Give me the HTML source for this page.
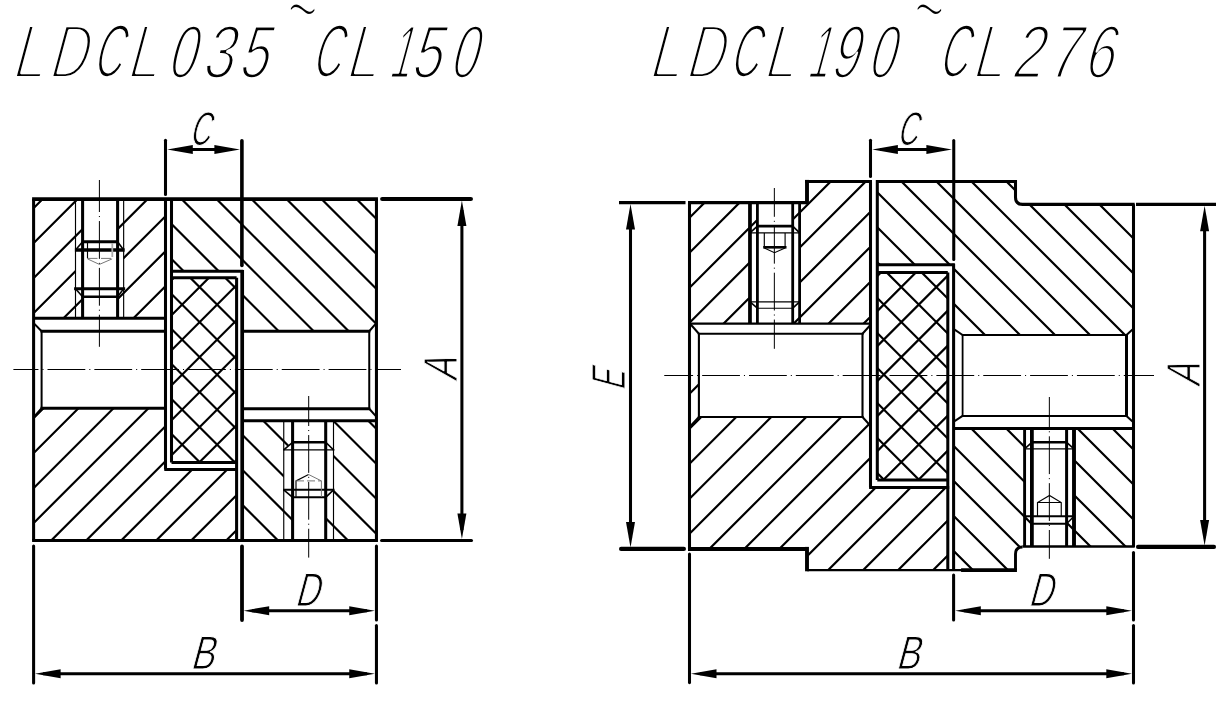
<!DOCTYPE html>
<html><head><meta charset="utf-8"><title>LDCL035~CL150 / LDCL190~CL276</title>
<style>
html,body{margin:0;padding:0;background:#fff}
svg{display:block}
path{fill:none;stroke:#000;stroke-linecap:butt;stroke-linejoin:miter}
.T{stroke-width:3.05}
.M{stroke-width:2.6}
.m{stroke-width:2}
.h{stroke-width:2.2}
.t{stroke-width:1.15}
.g{stroke-width:1;stroke:#777}
.c{stroke-width:1}
.r{stroke-linecap:round}
.a{fill:#000;stroke:none}
text{font-family:"Liberation Sans",sans-serif;fill:#000;stroke:#fff;paint-order:fill stroke;stroke-linejoin:round}
</style></head><body>
<svg width="1225" height="709" viewBox="0 0 1225 709" style="will-change:transform">
<rect width="1225" height="709" fill="#fff"/>
<clipPath id="c1"><path clip-rule="evenodd" d="M33.6 199L165.5 199L165.5 318.2L33.6 318.2ZM41.6 408.2L165.5 408.2L165.5 469.5L236.6 469.5L236.6 540.4L33.6 540.4L33.6 416.5ZM82.6 199L117.6 199L117.6 241.7L123.65 250L123.65 288.7L117.6 296.8L117.6 318.2L82.6 318.2L82.6 296.8L75.5 288.7L75.5 250L82.6 241.7Z"/></clipPath>
<path class="h" clip-path="url(#c1)" d="M44.7 197L-300.7 542.4M79.7 197L-265.7 542.4M114.7 197L-230.7 542.4M149.7 197L-195.7 542.4M184.7 197L-160.7 542.4M219.7 197L-125.7 542.4M254.7 197L-90.7 542.4M289.7 197L-55.7 542.4M324.7 197L-20.7 542.4M359.7 197L14.3 542.4M394.7 197L49.3 542.4M429.7 197L84.3 542.4M464.7 197L119.3 542.4M499.7 197L154.3 542.4M534.7 197L189.3 542.4M569.7 197L224.3 542.4"/>
<clipPath id="c2"><path clip-rule="evenodd" d="M171.5 199L376.45 199L376.45 323.75L369.25 331.25L242 331.25L242 271.2L171.5 271.2ZM242 420.7L376.45 420.7L376.45 540.4L242 540.4ZM292.6 420.7L325.7 420.7L325.7 442.3L333.5 449.9L333.5 489.8L325.7 497.3L325.7 540.4L292.6 540.4L292.6 497.3L283.75 489.8L283.75 449.9L292.6 442.3Z"/></clipPath>
<path class="h" clip-path="url(#c2)" d="M-170.5 197L174.9 542.4M-135.5 197L209.9 542.4M-100.5 197L244.9 542.4M-65.5 197L279.9 542.4M-30.5 197L314.9 542.4M4.5 197L349.9 542.4M39.5 197L384.9 542.4M74.5 197L419.9 542.4M109.5 197L454.9 542.4M144.5 197L489.9 542.4M179.5 197L524.9 542.4M214.5 197L559.9 542.4M249.5 197L594.9 542.4M284.5 197L629.9 542.4M319.5 197L664.9 542.4M354.5 197L699.9 542.4"/>
<clipPath id="c3"><path clip-rule="evenodd" d="M171.5 277.7L236.6 277.7L236.6 462.5L171.5 462.5Z"/></clipPath>
<path class="h" clip-path="url(#c3)" d="M13.2 275.7L202 464.5M48.2 275.7L237 464.5M83.2 275.7L272 464.5M118.2 275.7L307 464.5M153.2 275.7L342 464.5M188.2 275.7L377 464.5M223.2 275.7L412 464.5M176 275.7L-12.8 464.5M211 275.7L22.2 464.5M246 275.7L57.2 464.5M281 275.7L92.2 464.5M316 275.7L127.2 464.5M351 275.7L162.2 464.5M386 275.7L197.2 464.5M421 275.7L232.2 464.5"/>
<path class="c" stroke-dasharray="37.8 4 1.05 4" stroke-dashoffset="12.75" d="M13.4 369.5H401"/>
<path class="c" stroke-dasharray="37.8 4 1.05 4" stroke-dashoffset="5.8" d="M99.4 180V346.8"/>
<path class="c" stroke-dasharray="37.8 4 1.05 4" stroke-dashoffset="7.8" d="M308.7 396V557.6"/>
<path class="t" d="M75.5 199L75.5 318.2"/>
<path class="T" d="M82.6 199L82.6 318.2"/>
<path class="T" d="M117.6 199L117.6 318.2"/>
<path class="t" d="M123.65 199L123.65 318.2"/>
<path style="stroke-width:1.6" d="M82.6 241.7L75.5 250"/>
<path style="stroke-width:1.6" d="M117.6 241.7L123.65 250"/>
<path style="stroke-width:1.6" d="M75.5 288.7L82.6 296.8"/>
<path style="stroke-width:1.6" d="M123.65 288.7L117.6 296.8"/>
<path class="T" d="M82.6 241.7L117.6 241.7"/>
<path style="stroke-width:3.5" d="M74.9 250L124.65 250"/>
<path class="T" d="M74.1 288.7L125.15 288.7"/>
<path style="stroke-width:2.4" d="M82.6 296.8L117.6 296.8"/>
<path class="t" d="M87.5 243V258.4"/>
<path style="stroke:#aaa;stroke-width:1.8" d="M112.3 243V257"/>
<path class="g" stroke-dasharray="10 3.5" d="M87.5 258.4H112.1"/>
<path class="g" d="M87.5 258.9L99.4 264.4L112.1 258.9"/>
<path class="t" d="M283.75 420.7L283.75 540.4"/>
<path class="T" d="M292.6 420.7L292.6 540.4"/>
<path class="T" d="M325.7 420.7L325.7 540.4"/>
<path class="t" d="M333.5 420.7L333.5 540.4"/>
<path style="stroke-width:1.6" d="M292.6 442.3L283.75 449.9"/>
<path style="stroke-width:1.6" d="M325.7 442.3L333.5 449.9"/>
<path style="stroke-width:1.6" d="M283.75 489.8L292.6 497.3"/>
<path style="stroke-width:1.6" d="M333.5 489.8L325.7 497.3"/>
<path class="M" d="M292.6 442.3L325.7 442.3"/>
<path class="t" d="M283.15 449.9L334.5 449.9"/>
<path class="m" d="M283.15 489.8L334.5 489.8"/>
<path class="m" d="M292.6 497.3L325.7 497.3"/>
<path class="t" d="M296 496.8V480.9L308.6 474.5"/>
<path class="g" d="M308.6 474.5L321.4 480.9V496.8"/>
<path class="g" stroke-dasharray="8 3" d="M296 480.9H321.4"/>
<path style="stroke-width:3.8" d="M32.1 199.1H377.95"/>
<path class="T" d="M32.1 540.4L377.95 540.4"/>
<path class="T" d="M33.6 199L33.6 540.4"/>
<path class="T" d="M376.45 199L376.45 540.4"/>
<path class="T" d="M165.5 199L165.5 469.5"/>
<path class="T" d="M164.3 469.5L238 469.5"/>
<path class="T" d="M236.6 277.7L236.6 540.4"/>
<path class="T" d="M171.5 199L171.5 462.5"/>
<path class="T" d="M171.5 462.5L236.6 462.5"/>
<path class="T" d="M171.5 277.7L236.6 277.7"/>
<path class="T" d="M171.5 271.2L243.2 271.2"/>
<path style="stroke-width:3.7" d="M242.2 270V540.4"/>
<path class="T" d="M33.6 318.2L165.5 318.2"/>
<path class="T" d="M40.6 331.2L165.5 331.2"/>
<path class="T" d="M40.6 408.2L165.5 408.2"/>
<path class="m" d="M41.6 331.2L41.6 408.2"/>
<path class="m" d="M34.2 323.6L41.6 331.2"/>
<path class="m" d="M34.2 416.6L41.6 408.2"/>
<path class="T" d="M242 331.25L370.25 331.25"/>
<path class="T" d="M242 408.75L370.25 408.75"/>
<path class="T" d="M242 420.7L376.45 420.7"/>
<path class="m" d="M369.25 331.25L369.25 408.75"/>
<path class="m" d="M369.25 331.25L375.85 323.65"/>
<path class="m" d="M369.25 408.75L375.85 416.15"/>
<path class="T r" d="M165.5 140.2V194.5"/>
<path class="r" style="stroke-width:3.6" d="M241.9 140.8V265.5"/>
<path class="T" d="M175 149.5L232 149.5"/>
<path class="a" d="M167.2 149.5L192.8 154L192.8 145Z"/>
<path class="a" d="M240 149.5L214.4 145L214.4 154Z"/>
<path class="r" style="stroke-width:4.2" d="M382.2 199H470.9"/>
<path class="T r" d="M381.6 540.4H471.5"/>
<path class="T" d="M461.9 210L461.9 530"/>
<path class="a" d="M461.9 200.4L457.4 226L466.4 226Z"/>
<path class="a" d="M461.9 539L466.4 513.4L457.4 513.4Z"/>
<path class="r" style="stroke-width:3.8" d="M242 546.4V620"/>
<path class="T r" d="M376.45 546V620"/>
<path class="T" d="M252 610.7L367 610.7"/>
<path class="a" d="M243.6 610.7L269.2 615.2L269.2 606.2Z"/>
<path class="a" d="M374.85 610.7L349.25 606.2L349.25 615.2Z"/>
<path class="T r" d="M33.6 546V683"/>
<path class="T r" d="M376.45 625.4V683"/>
<path class="T" d="M43 673.7L367 673.7"/>
<path class="a" d="M35 673.7L60.6 678.2L60.6 669.2Z"/>
<path class="a" d="M374.85 673.7L349.25 669.2L349.25 678.2Z"/>
<clipPath id="c4"><path clip-rule="evenodd" d="M689.5 202.6L807.2 202.6L807.2 181.5L870.5 181.5L870.5 323.6L689.5 323.6ZM757.4 202.6L792.7 202.6L792.7 226.1L799.6 232.9L799.6 301.9L792.7 308.2L792.7 323.6L757.4 323.6L757.4 308.2L749.97 301.9L749.97 232.9L757.4 226.1Z"/></clipPath>
<path class="h" clip-path="url(#c4)" d="M692.7 179.5L546.6 325.6M727.7 179.5L581.6 325.6M762.7 179.5L616.6 325.6M797.7 179.5L651.6 325.6M832.7 179.5L686.6 325.6M867.7 179.5L721.6 325.6M902.7 179.5L756.6 325.6M937.7 179.5L791.6 325.6M972.7 179.5L826.6 325.6M1007.7 179.5L861.6 325.6"/>
<clipPath id="c5"><path clip-rule="evenodd" d="M698.9 417L862.5 417L870.5 425L870.5 487.5L947.8 487.5L947.8 570.1L807.2 570.1L807.2 548.9L689.5 548.9L689.5 426ZM689.5 383L698.9 383L698.9 394L689.5 394Z"/></clipPath>
<path class="h" clip-path="url(#c5)" d="M702.25 381L511.15 572.1M737.25 381L546.15 572.1M772.25 381L581.15 572.1M807.25 381L616.15 572.1M842.25 381L651.15 572.1M877.25 381L686.15 572.1M912.25 381L721.15 572.1M947.25 381L756.15 572.1M982.25 381L791.15 572.1M1017.25 381L826.15 572.1M1052.25 381L861.15 572.1M1087.25 381L896.15 572.1M1122.25 381L931.15 572.1"/>
<clipPath id="c6"><path clip-rule="evenodd" d="M877.3 181.5L1015.5 181.5L1015.5 197.35L1017.6 202.25L1022.5 204.35L1133.5 204.35L1133.5 329.4L1126.5 335L962.6 335L953.6 329.6L953.6 264.7L877.3 264.7Z"/></clipPath>
<path class="h" clip-path="url(#c6)" d="M724.5 179.5L882 337M759.5 179.5L917 337M794.5 179.5L952 337M829.5 179.5L987 337M864.5 179.5L1022 337M899.5 179.5L1057 337M934.5 179.5L1092 337M969.5 179.5L1127 337M1004.5 179.5L1162 337M1039.5 179.5L1197 337M1074.5 179.5L1232 337M1109.5 179.5L1267 337"/>
<clipPath id="c7"><path clip-rule="evenodd" d="M953.6 428.5L1031.9 428.5L1031.9 442.3L1024.6 448.9L1024.6 516.25L1031.9 523.75L1031.9 547L1022.5 547L1017.6 549.1L1015.5 554L1015.5 570.1L953.6 570.1Z"/></clipPath>
<path class="h" clip-path="url(#c7)" d="M829.3 426.5L974.9 572.1M864.3 426.5L1009.9 572.1M899.3 426.5L1044.9 572.1M934.3 426.5L1079.9 572.1M969.3 426.5L1114.9 572.1M1004.3 426.5L1149.9 572.1"/>
<clipPath id="c8"><path clip-rule="evenodd" d="M1066.6 428.5L1133.5 428.5L1133.5 547L1066.6 547L1066.6 523.75L1074 516.25L1074 448.9L1066.6 442.3Z"/></clipPath>
<path class="h" clip-path="url(#c8)" d="M970.5 426.5L1093 549M1005.5 426.5L1128 549M1040.5 426.5L1163 549M1075.5 426.5L1198 549M1110.5 426.5L1233 549"/>
<clipPath id="c9"><path clip-rule="evenodd" d="M877.3 272.4L947.8 272.4L947.8 480L877.3 480Z"/></clipPath>
<path class="h" clip-path="url(#c9)" d="M674.6 270.4L886.2 482M709.6 270.4L921.2 482M744.6 270.4L956.2 482M779.6 270.4L991.2 482M814.6 270.4L1026.2 482M849.6 270.4L1061.2 482M884.6 270.4L1096.2 482M919.6 270.4L1131.2 482M882.95 270.4L671.35 482M917.95 270.4L706.35 482M952.95 270.4L741.35 482M987.95 270.4L776.35 482M1022.95 270.4L811.35 482M1057.95 270.4L846.35 482M1092.95 270.4L881.35 482M1127.95 270.4L916.35 482"/>
<path class="c" stroke-dasharray="37.8 4 1.05 4" stroke-dashoffset="8.95" d="M664.25 375.5H1154"/>
<path class="c" stroke-dasharray="37.8 4 1.05 4" stroke-dashoffset="9" d="M774.35 188V348.8"/>
<path class="c" stroke-dasharray="37.8 4 1.05 4" stroke-dashoffset="7.55" d="M1049.35 397V558.8"/>
<path style="stroke-width:3.75" d="M749.97 202.6V323.6"/>
<path style="stroke-width:2.8" d="M757.4 202.6V323.6"/>
<path style="stroke-width:2.8" d="M792.7 202.6V323.6"/>
<path style="stroke-width:2.8" d="M799.6 202.6V323.6"/>
<path style="stroke-width:1.6" d="M757.4 226.1L749.97 232.9"/>
<path style="stroke-width:1.6" d="M792.7 226.1L799.6 232.9"/>
<path style="stroke-width:1.6" d="M749.97 301.9L757.4 308.2"/>
<path style="stroke-width:1.6" d="M799.6 301.9L792.7 308.2"/>
<path class="M" d="M757.4 226.1L792.7 226.1"/>
<path class="t" d="M749.97 232.9L799.6 232.9"/>
<path class="t" d="M749.97 301.9L799.6 301.9"/>
<path class="t" d="M757.4 308.2L792.7 308.2"/>
<path class="t" d="M764.3 233V247.3M785.1 233V247.3"/>
<path class="M" d="M763.2 247.3H786.5"/>
<path class="t" d="M764.3 248L774.5 252.7L785.1 248"/>
<path style="stroke-width:2.9" d="M1024.6 428.5V547"/>
<path style="stroke-width:3.75" d="M1031.9 428.5V547"/>
<path style="stroke-width:3" d="M1066.6 428.5V547"/>
<path style="stroke-width:3.9" d="M1074 428.5V547"/>
<path style="stroke-width:1.6" d="M1031.9 442.3L1024.6 448.9"/>
<path style="stroke-width:1.6" d="M1066.6 442.3L1074 448.9"/>
<path style="stroke-width:1.6" d="M1024.6 516.25L1031.9 523.75"/>
<path style="stroke-width:1.6" d="M1074 516.25L1066.6 523.75"/>
<path class="M" d="M1031.9 442.3L1066.6 442.3"/>
<path class="t" d="M1024.6 448.9L1074 448.9"/>
<path class="m" d="M1024.6 516.25L1074 516.25"/>
<path class="m" d="M1031.9 523.75L1066.6 523.75"/>
<path class="t" d="M1037.5 516V502.5L1049.5 495.5L1061.25 502.5V516M1037.5 502.5H1061.25"/>
<path class="T" d="M688 202.6H807.2"/>
<path style="stroke-width:3.9" d="M807 204.1V179.9"/>
<path style="stroke-width:3.2" d="M805.1 181.5H872"/>
<path style="stroke-width:4" d="M688 548.9H807.2"/>
<path style="stroke-width:3.9" d="M807 546.9V571.3"/>
<path style="stroke-width:2.4" d="M807.2 570.1H962"/>
<path class="T" d="M689.5 202.6L689.5 548.9"/>
<path class="T" d="M870.5 181.5L870.5 487.5"/>
<path class="T" d="M869.1 487.5L949.2 487.5"/>
<path class="T" d="M947.8 272.4L947.8 571.1"/>
<path class="T" d="M877.3 180.1L877.3 480"/>
<path class="T" d="M877.3 480L947.8 480"/>
<path class="T" d="M877.3 272.4L947.8 272.4"/>
<path class="T" d="M877.3 264.7L954.8 264.7"/>
<path class="T" d="M953.6 263.7L953.6 571.1"/>
<path class="T" d="M877.3 181.5H1015.5V197.35Q1015.5 204.35 1022.5 204.35H1134.7"/>
<path style="stroke-width:3.7" d="M961.1 570.1H1016.95"/>
<path style="stroke-width:2.9" d="M1015.5 570.1V554Q1015.5 547 1022.5 547"/>
<path style="stroke-width:2.5" d="M1022.5 546.6H1134.7"/>
<path class="T" d="M1133.5 204.35L1133.5 547"/>
<path style="stroke-width:2.2" d="M689.5 323.6L870.5 323.6"/>
<path style="stroke-width:2.2" d="M697.9 333.75L863.5 333.75"/>
<path style="stroke-width:2.2" d="M697.9 417L863.5 417"/>
<path style="stroke-width:2.1" d="M698.9 333.75L698.9 417"/>
<path style="stroke-width:2.1" d="M862.5 333.75L862.5 417"/>
<path style="stroke-width:2" d="M690.3 324L698.9 333.75"/>
<path style="stroke-width:2" d="M862.5 333.75L869.7 325.75"/>
<path style="stroke-width:2" d="M690.3 426.2L698.9 417"/>
<path style="stroke-width:2" d="M862.5 417L869.7 425"/>
<path style="stroke-width:2" d="M961.8 335L1127.5 335"/>
<path style="stroke-width:2" d="M961.8 415.9L1127.5 415.9"/>
<path style="stroke-width:2.8" d="M953.6 428.5L1133.5 428.5"/>
<path style="stroke-width:1.8" d="M962.6 335L962.6 415.9"/>
<path style="stroke-width:3" d="M1126.5 335L1126.5 415.9"/>
<path style="stroke-width:2" d="M954.6 329.6L962.6 335"/>
<path style="stroke-width:2" d="M1126.5 335L1132.5 329.4"/>
<path style="stroke-width:2" d="M954.6 421.1L962.6 415.9"/>
<path style="stroke-width:2" d="M1126.5 415.9L1132.5 421.5"/>
<path class="T r" d="M870.5 140.2V176.5"/>
<path class="T r" d="M953.75 140.5V259.5"/>
<path class="T" d="M880 149.5L944 149.5"/>
<path class="a" d="M872.3 149.5L897.9 154L897.9 145Z"/>
<path class="a" d="M952 149.5L926.4 145L926.4 154Z"/>
<path class="T" d="M619 202.6H685.5"/>
<path class="r" style="stroke-width:4.2" d="M621.1 548.9H683.9"/>
<path class="T" d="M630.5 214L630.5 538"/>
<path class="a" d="M630.5 204L626 229.6L635 229.6Z"/>
<path class="a" d="M630.5 547.5L635 521.9L626 521.9Z"/>
<path class="T" d="M1136 204.35H1216"/>
<path class="r" style="stroke-width:4.1" d="M1138 546.9H1214"/>
<path class="T" d="M1204.6 216L1204.6 536"/>
<path class="a" d="M1204.6 205.75L1200.1 231.35L1209.1 231.35Z"/>
<path class="a" d="M1204.6 545.6L1209.1 520L1200.1 520Z"/>
<path class="T r" d="M953.6 575V620"/>
<path class="T r" d="M1133.5 552.5V620"/>
<path class="T" d="M964 610.7L1124 610.7"/>
<path class="a" d="M955.2 610.7L980.8 615.2L980.8 606.2Z"/>
<path class="a" d="M1131.9 610.7L1106.3 606.2L1106.3 615.2Z"/>
<path class="T r" d="M689.5 554V682.6"/>
<path class="T r" d="M1133.5 625.6V683"/>
<path class="T" d="M700 673.8L1124 673.8"/>
<path class="a" d="M690.9 673.8L716.5 678.3L716.5 669.3Z"/>
<path class="a" d="M1131.9 673.8L1106.3 669.3L1106.3 678.3Z"/>
<text transform="translate(0 76) skewX(-15) scale(0.77 1)"><tspan x="13.7" y="2.05" font-size="77.18" stroke-width="4.1" textLength="42.43" lengthAdjust="spacingAndGlyphs">L</tspan><tspan x="61.91" y="1.9" font-size="76.74" stroke-width="3.8" textLength="48.91" lengthAdjust="spacingAndGlyphs">D</tspan><tspan x="119.27" y="1.45" font-size="75.44" stroke-width="2.9" textLength="37.44" lengthAdjust="spacingAndGlyphs">C</tspan><tspan x="162.96" y="2.05" font-size="77.18" stroke-width="4.1" textLength="41.28" lengthAdjust="spacingAndGlyphs">L</tspan><tspan x="215.81" y="1.5" font-size="75.58" stroke-width="3" textLength="36.5" lengthAdjust="spacingAndGlyphs">0</tspan><tspan x="261.21" y="1.5" font-size="75.58" stroke-width="3" textLength="40.16" lengthAdjust="spacingAndGlyphs">3</tspan><tspan x="308.63" y="1.5" font-size="75.58" stroke-width="3" textLength="37.87" lengthAdjust="spacingAndGlyphs">5</tspan></text>
<text transform="translate(287.3 50.9) scale(0.85 2)" font-size="62" stroke-width="3.05">~</text>
<text transform="translate(0 76) skewX(-15) scale(0.77 1)"><tspan x="403.68" y="1.45" font-size="75.44" stroke-width="2.9" textLength="37.44" lengthAdjust="spacingAndGlyphs">C</tspan><tspan x="447" y="2.05" font-size="77.18" stroke-width="4.1" textLength="42.11" lengthAdjust="spacingAndGlyphs">L</tspan><tspan x="503.98" y="1.5" font-size="75.58" stroke-width="3" textLength="27.39" lengthAdjust="spacingAndGlyphs">1</tspan><tspan x="532.74" y="1.5" font-size="75.58" stroke-width="3" textLength="38.64" lengthAdjust="spacingAndGlyphs">5</tspan><tspan x="582.65" y="1.5" font-size="75.58" stroke-width="3" textLength="35.29" lengthAdjust="spacingAndGlyphs">0</tspan></text>
<text transform="translate(0 76) skewX(-15) scale(0.77 1)"><tspan x="840.78" y="2.05" font-size="77.18" stroke-width="4.1" textLength="42.43" lengthAdjust="spacingAndGlyphs">L</tspan><tspan x="888.99" y="1.9" font-size="76.74" stroke-width="3.8" textLength="48.91" lengthAdjust="spacingAndGlyphs">D</tspan><tspan x="946.35" y="1.45" font-size="75.44" stroke-width="2.9" textLength="37.44" lengthAdjust="spacingAndGlyphs">C</tspan><tspan x="990.04" y="2.05" font-size="77.18" stroke-width="4.1" textLength="41.28" lengthAdjust="spacingAndGlyphs">L</tspan><tspan x="1047.23" y="1.5" font-size="75.58" stroke-width="3" textLength="27.39" lengthAdjust="spacingAndGlyphs">1</tspan><tspan x="1077.1" y="1.5" font-size="75.58" stroke-width="3" textLength="36.51" lengthAdjust="spacingAndGlyphs">9</tspan><tspan x="1125.43" y="1.5" font-size="75.58" stroke-width="3" textLength="34.53" lengthAdjust="spacingAndGlyphs">0</tspan></text>
<text transform="translate(914.1 50.9) scale(0.85 2)" font-size="62" stroke-width="3.05">~</text>
<text transform="translate(0 76) skewX(-15) scale(0.77 1)"><tspan x="1217.71" y="1.45" font-size="75.44" stroke-width="2.9" textLength="37.44" lengthAdjust="spacingAndGlyphs">C</tspan><tspan x="1260.94" y="2.05" font-size="77.18" stroke-width="4.1" textLength="41.78" lengthAdjust="spacingAndGlyphs">L</tspan><tspan x="1312.58" y="1.5" font-size="75.58" stroke-width="3" textLength="39.85" lengthAdjust="spacingAndGlyphs">2</tspan><tspan x="1359.4" y="1.5" font-size="75.58" stroke-width="3" textLength="39.78" lengthAdjust="spacingAndGlyphs">7</tspan><tspan x="1405.91" y="1.5" font-size="75.58" stroke-width="3" textLength="38.16" lengthAdjust="spacingAndGlyphs">6</tspan></text>
<text transform="translate(0 144.45) skewX(-15) scale(0.4 1)"><tspan x="472.76" y="0.5" font-size="47.38" stroke-width="1" textLength="50.55" lengthAdjust="spacingAndGlyphs">C</tspan></text>
<text transform="translate(0 605) skewX(-15) scale(0.6 1)"><tspan x="491.02" y="0.5" font-size="47.38" stroke-width="1" textLength="39.91" lengthAdjust="spacingAndGlyphs">D</tspan></text>
<text transform="translate(0 668) skewX(-15) scale(0.7 1)"><tspan x="271.57" y="0.5" font-size="47.38" stroke-width="1" textLength="33.56" lengthAdjust="spacingAndGlyphs">B</tspan></text>
<text transform="translate(0 144.45) skewX(-15) scale(0.4 1)"><tspan x="2241.76" y="0.5" font-size="47.38" stroke-width="1" textLength="50.55" lengthAdjust="spacingAndGlyphs">C</tspan></text>
<text transform="translate(0 605) skewX(-15) scale(0.6 1)"><tspan x="1713.52" y="0.5" font-size="47.38" stroke-width="1" textLength="39.91" lengthAdjust="spacingAndGlyphs">D</tspan></text>
<text transform="translate(0 668) skewX(-15) scale(0.7 1)"><tspan x="1279.42" y="0.5" font-size="47.38" stroke-width="1" textLength="33.56" lengthAdjust="spacingAndGlyphs">B</tspan></text>
<text transform="translate(456.5 381.2) rotate(-90) skewX(-15) scale(0.6 1)" font-size="47.8" stroke-width="1"><tspan x="-0.62" textLength="38.62" lengthAdjust="spacingAndGlyphs">A</tspan></text>
<text transform="translate(1199.5 386.9) rotate(-90) skewX(-15) scale(0.6 1)" font-size="47.8" stroke-width="1"><tspan x="-0.62" textLength="38.62" lengthAdjust="spacingAndGlyphs">A</tspan></text>
<text transform="translate(625.1 388) rotate(-90) skewX(-15) scale(0.6 1)" font-size="47.8" stroke-width="1"><tspan x="-4.44" textLength="32.06" lengthAdjust="spacingAndGlyphs">E</tspan></text>
</svg>
</body></html>
